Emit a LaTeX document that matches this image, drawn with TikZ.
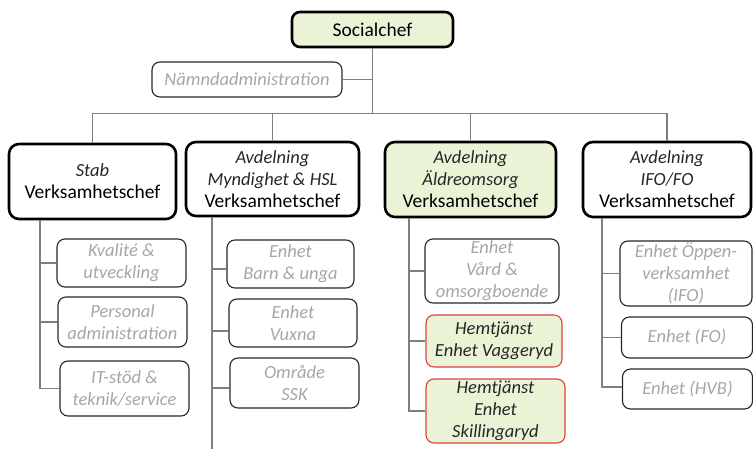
\documentclass[tikz,border=0pt]{standalone}
\usepackage{fontspec}
\setmainfont{Carlito}
\definecolor{gtext}{HTML}{A6A6A6}
\definecolor{dtext}{HTML}{262626}
\definecolor{lgreen}{HTML}{EBF3D7}
\definecolor{redb}{HTML}{E0403A}
\definecolor{conn}{HTML}{7F7F7F}
\tikzset{
  head/.style={draw=black, line width=2.6pt, rounded corners=10pt, align=center, inner sep=2pt,
    font=\fontsize{18.5}{22}\selectfont\itshape, text=dtext},
  top/.style={draw=black, line width=2.6pt, rounded corners=8pt, align=center, fill=lgreen,
    font=\fontsize{19.5}{23}\selectfont, text=black},
  sub/.style={draw=dtext, line width=1.1pt, rounded corners=8pt, align=center, inner sep=1pt,
    font=\fontsize{18.5}{22}\selectfont\itshape, text=gtext},
  hem/.style={sub, draw=redb, fill=lgreen, text=dtext},
  link/.style={draw=conn, line width=1.5pt},
}
\newcommand{\vc}{{\upshape\fontsize{19.5}{23}\selectfont\color{black}Verksamhetschef}}
\begin{document}
\begin{tikzpicture}[x=1pt,y=-1pt]
\useasboundingbox (0,0) rectangle (753,449);
% top
\node[top, minimum width=161pt, minimum height=35pt] (soc) at (372.5,29.5) {Socialchef};
\node[sub, minimum width=190pt, minimum height=35pt] (namnd) at (247,79.5) {Nämndadministration};
% heads
\node[head, minimum width=167pt, minimum height=75pt] (stab) at (92.5,181.5) {Stab\\\vc};
\node[head, minimum width=173pt, minimum height=74pt] (mynd) at (272.5,179) {Avdelning\\Myndighet \& HSL\\\vc};
\node[head, fill=lgreen, minimum width=171pt, minimum height=75pt] (aldre) at (470.5,179.5) {Avdelning\\Äldreomsorg\\\vc};
\node[head, minimum width=168pt, minimum height=75pt] (ifo) at (667,179.5) {Avdelning\\IFO/FO\\\vc};
% stab children
\node[sub, minimum width=129pt, minimum height=48pt] (kval) at (121.5,263) {Kvalité \&\\utveckling};
\node[sub, minimum width=129pt, minimum height=50pt] (pers) at (122.5,322) {Personal\\administration};
\node[sub, minimum width=129pt, minimum height=55pt] (it) at (124.5,388.5) {IT-stöd \&\\teknik/service};
% mynd children
\node[sub, minimum width=127pt, minimum height=48pt] (barn) at (290.5,264) {Enhet\\Barn \& unga};
\node[sub, minimum width=128pt, minimum height=48pt] (vux) at (293,323) {Enhet\\Vuxna};
\node[sub, minimum width=129pt, minimum height=50pt] (ssk) at (294.5,383) {Område\\SSK};
% aldre children
\node[sub, minimum width=134pt, minimum height=64pt] (vard) at (492,271) {Enhet\\Vård \&\\omsorgboende};
\node[hem, minimum width=136pt, minimum height=52pt] (vagg) at (494,341) {Hemtjänst\\Enhet Vaggeryd};
\node[hem, minimum width=139pt, minimum height=64pt] (skil) at (495.5,411) {Hemtjänst\\Enhet\\Skillingaryd};
% ifo children
\node[sub, minimum width=132pt, minimum height=65pt] (opp) at (686,273.5) {Enhet Öppen-\\verksamhet\\(IFO)};
\node[sub, minimum width=131pt, minimum height=41pt] (fo) at (687,337.5) {Enhet (FO)};
\node[sub, minimum width=130pt, minimum height=40pt] (hvb) at (687.5,389) {Enhet (HVB)};
% coordinates
\coordinate (bus) at (0,113.5);
\coordinate (sx) at (40,0);
\coordinate (mx) at (212,0);
\coordinate (mend) at (212,449);
\coordinate (ax) at (409,0);
\coordinate (ix) at (602,0);
% connectors top
\draw[link] (soc.south) -- (soc.south |- bus);
\draw[link] (namnd.east) -- (namnd.east -| soc.south);
\draw[link] (stab.north) -- (stab.north |- bus) -- (ifo.north |- bus) -- (ifo.north);
\draw[link] (mynd.north) -- (mynd.north |- bus);
\draw[link] (aldre.north) -- (aldre.north |- bus);
% stab
\draw[link] (stab.south -| sx) |- (it.west);
\draw[link] (kval.west) -- (kval.west -| sx);
\draw[link] (pers.west) -- (pers.west -| sx);
% mynd
\draw[link] (mynd.south -| mx) -- (mend);
\draw[link] ([yshift=-5pt]barn.west) -- ([yshift=-5pt]barn.west -| mx);
\draw[link] ([yshift=-8pt]vux.west) -- ([yshift=-8pt]vux.west -| mx);
\draw[link] ([yshift=-5pt]ssk.west) -- ([yshift=-5pt]ssk.west -| mx);
% aldre
\draw[link] (aldre.south -| ax) |- (skil.west);
\draw[link] (vard.west) -- (vard.west -| ax);
\draw[link] (vagg.west) -- (vagg.west -| ax);
% ifo
\draw[link] (ifo.south -| ix) |- ([yshift=2pt]hvb.west);
\draw[link] (opp.west) -- (opp.west -| ix);
\draw[link] (fo.west) -- (fo.west -| ix);
\end{tikzpicture}
\end{document}
